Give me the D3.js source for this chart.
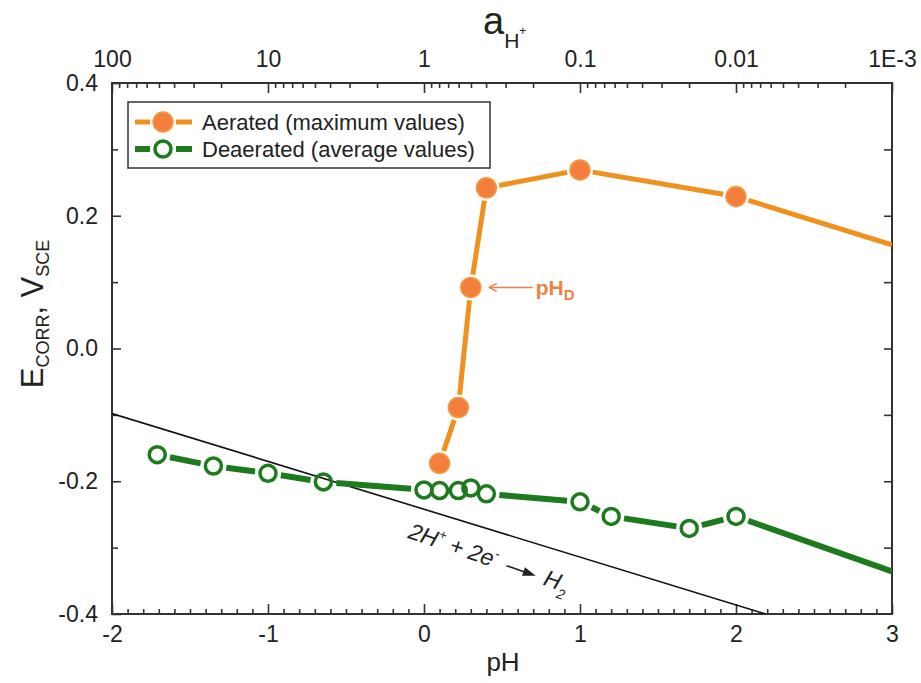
<!DOCTYPE html>
<html>
<head>
<meta charset="utf-8">
<script src="https://cdn.jsdelivr.net/npm/d3@7"></script>
<style>
  html, body { margin: 0; padding: 0; background: #fff; }
  svg { display: block; font-family: "Liberation Sans", Arial, sans-serif; }
</style>
</head>
<body>
<svg id="chart" width="921" height="683"></svg>
<script>
// Corrosion potential vs pH, aerated and deaerated solutions
const aeratedPH = [0.1, 0.22, 0.3, 0.4, 1.0, 2.0, 3.0];
const aeratedE  = [-0.173, -0.089, 0.092, 0.242, 0.269, 0.229, 0.156];

const deaeratedPH = [-1.71, -1.35, -1.0, -0.645, 0.0, 0.1, 0.22, 0.3, 0.4, 1.0, 1.2, 1.7, 2.0, 3.0];
const deaeratedE  = [-0.160, -0.177, -0.188, -0.201, -0.213, -0.214, -0.214, -0.210, -0.219, -0.231, -0.253, -0.271, -0.253, -0.336];

// Hydrogen evolution equilibrium line (end points)
const h2PH = [-2, 2.19];
const h2E  = [-0.098, -0.4];

// Tick labels
const pHTicks = [-2, -1, 0, 1, 2, 3];
const eTicks = [0.4, 0.2, 0.0, -0.2, -0.4];
const activityTicks = [100, 10, 1, 0.1, 0.01, 0.001];
const activityLabels = ["100", "10", "1", "0.1", "0.01", "1E-3"];

const seriesNames = ["Aerated (maximum values)", "Deaerated (average values)"];
const pHD = 0.3; // depassivation pH

const svg = d3.select("#chart");
const L = 112, R = 892, T = 83, B = 614;

const x = d3.scaleLinear().domain([-2, 3]).range([L, R]);
const y = d3.scaleLinear().domain([-0.4, 0.4]).range([B, T]);
const xTop = d3.scaleLog().domain([100, 0.001]).range([L, R]);

const ORANGE_LINE = "#f0901e", ORANGE_FILL = "#f47f3c", GREEN = "#1d7a1d";
const AXIS = "#333";
const FONT = "Liberation Sans, Arial, sans-serif";

// clip for data
svg.append("defs").append("clipPath").attr("id", "plotclip")
  .append("rect").attr("x", L).attr("y", T).attr("width", R - L).attr("height", B - T);

// ---- axes ----
function styleAxis(g) {
  g.select(".domain").remove();
  g.selectAll(".tick line").attr("stroke", AXIS).attr("stroke-width", 1.6);
  g.selectAll(".tick text").attr("fill", "#222").attr("font-size", 23).attr("font-family", FONT);
}

// bottom
const minorPH = d3.range(-20, 31).map(d => d / 10).filter(d => Math.abs(d - Math.round(d)) > 1e-6);
svg.append("g").attr("transform", `translate(0,${B})`)
  .call(d3.axisBottom(x).tickValues(minorPH).tickFormat("").tickSize(-5)).call(styleAxis);
svg.append("g").attr("transform", `translate(0,${B})`)
  .call(d3.axisBottom(x).tickValues(pHTicks).tickFormat(d => String(d)).tickSize(-10).tickPadding(12))
  .call(styleAxis);

// left
const minorE = [0.3, 0.1, -0.1, -0.3];
svg.append("g").attr("transform", `translate(${L},0)`)
  .call(d3.axisLeft(y).tickValues(minorE).tickFormat("").tickSize(-6)).call(styleAxis);
svg.append("g").attr("transform", `translate(${L},0)`)
  .call(d3.axisLeft(y).tickValues(eTicks).tickFormat(d => d.toFixed(1)).tickSize(-9).tickPadding(14))
  .call(styleAxis);

// right
svg.append("g").attr("transform", `translate(${R},0)`)
  .call(d3.axisRight(y).tickValues([0.3, 0.2, 0.1, 0.0, -0.1, -0.2, -0.3]).tickFormat("").tickSize(-8))
  .call(styleAxis);

// top (activity of H+)
const minorA = [];
[100, 10, 1, 0.1, 0.01].forEach(dec => { for (let k = 2; k <= 9; k++) minorA.push(dec / 10 * k); });
svg.append("g").attr("transform", `translate(0,${T})`)
  .call(d3.axisTop(xTop).tickValues(minorA).tickFormat("").tickSize(-5)).call(styleAxis);
svg.append("g").attr("transform", `translate(0,${T})`)
  .call(d3.axisTop(xTop).tickValues(activityTicks)
    .tickFormat((d, i) => activityLabels[i]).tickSize(-10).tickPadding(16))
  .call(styleAxis);

// frame
svg.append("rect").attr("x", L).attr("y", T).attr("width", R - L).attr("height", B - T)
  .attr("fill", "none").attr("stroke", AXIS).attr("stroke-width", 2);

// axis titles
svg.append("text").attr("x", 503).attr("y", 671).attr("text-anchor", "middle")
  .attr("font-size", 26).attr("fill", "#222").text("pH");

const yt = svg.append("text").attr("transform", "translate(43,314) rotate(-90)")
  .attr("text-anchor", "middle").attr("fill", "#222").attr("font-size", 31);
yt.append("tspan").text("E");
yt.append("tspan").attr("font-size", 18).attr("dy", 6).text("CORR");
yt.append("tspan").attr("dy", -6).text(", V");
yt.append("tspan").attr("font-size", 18).attr("dy", 6).text("SCE");

const tt = svg.append("text").attr("x", 483).attr("y", 34).attr("fill", "#222").attr("font-size", 38);
tt.append("tspan").text("a");
tt.append("tspan").attr("font-size", 21).attr("dy", 14).text("H");
tt.append("tspan").attr("font-size", 12).attr("dy", -13).text("+");

// ---- data ----
const plot = svg.append("g").attr("clip-path", "url(#plotclip)");

// H2 equilibrium line
plot.append("line")
  .attr("x1", x(h2PH[0])).attr("y1", y(h2E[0]))
  .attr("x2", x(h2PH[1])).attr("y2", y(h2E[1]))
  .attr("stroke", "#111").attr("stroke-width", 1.6);

// reaction label along the line
const ang = Math.atan2(y(h2E[1]) - y(h2E[0]), x(h2PH[1]) - x(h2PH[0])) * 180 / Math.PI + 2;
const rx = x(0.0) - 17, ry = y(-0.285);
const eqG = svg.append("g").attr("transform", `translate(${rx},${ry}) rotate(${ang})`);
const eq1 = eqG.append("text").attr("font-size", 23).attr("font-style", "italic").attr("fill", "#222");
eq1.append("tspan").text("2H");
eq1.append("tspan").attr("font-size", 13).attr("dy", -10).text("+");
eq1.append("tspan").attr("dy", 10).text(" + 2e");
eq1.append("tspan").attr("font-size", 13).attr("dy", -10).text("-");
const w1 = eq1.node().getComputedTextLength();
// reaction arrow
const a0 = w1 + 10;
eqG.append("line").attr("x1", a0).attr("y1", -6).attr("x2", a0 + 20).attr("y2", -6)
  .attr("stroke", "#222").attr("stroke-width", 1.6);
eqG.append("path").attr("d", `M${a0 + 31},-6 L${a0 + 18},-10.5 L${a0 + 18},-1.5 Z`).attr("fill", "#222");
const eq2 = eqG.append("text").attr("x", a0 + 40).attr("font-size", 23).attr("font-style", "italic").attr("fill", "#222");
eq2.append("tspan").text("H");
eq2.append("tspan").attr("font-size", 14).attr("dy", 8).text("2");

// segments with small gaps around markers
function drawSeries(pts, color, width, r, gap) {
  const seg = [];
  for (let i = 0; i < pts.length - 1; i++) {
    const x1 = x(pts[i][0]), y1 = y(pts[i][1]), x2 = x(pts[i + 1][0]), y2 = y(pts[i + 1][1]);
    const len = Math.hypot(x2 - x1, y2 - y1);
    const s = (r + gap) / len;
    const e = (pts[i + 1][0] >= 3 ? 0 : (r + gap)) / len;
    if (s + e < 1) seg.push([x1 + (x2 - x1) * s, y1 + (y2 - y1) * s, x2 - (x2 - x1) * e, y2 - (y2 - y1) * e]);
  }
  plot.append("g").selectAll("line").data(seg).join("line")
    .attr("x1", d => d[0]).attr("y1", d => d[1]).attr("x2", d => d[2]).attr("y2", d => d[3])
    .attr("stroke", color).attr("stroke-width", width).attr("stroke-linecap", "butt");
}

const aer = aeratedPH.map((p, i) => [p, aeratedE[i]]);
const dea = deaeratedPH.map((p, i) => [p, deaeratedE[i]]);

drawSeries(aer, ORANGE_LINE, 5, 10, 3);
drawSeries(dea, GREEN, 6, 9.5, 3.5);

plot.append("g").selectAll("circle").data(aer.filter(d => d[0] < 3)).join("circle")
  .attr("cx", d => x(d[0])).attr("cy", d => y(d[1])).attr("r", 10)
  .attr("fill", ORANGE_FILL).attr("stroke", "#f39a40").attr("stroke-width", 1.5);

plot.append("g").selectAll("circle").data(dea.filter(d => d[0] < 3)).join("circle")
  .attr("cx", d => x(d[0])).attr("cy", d => y(d[1])).attr("r", 8)
  .attr("fill", "none").attr("stroke", GREEN).attr("stroke-width", 3.5);

// depassivation pH annotation
const pHDE = aeratedE[aeratedPH.indexOf(pHD)];
const ax = x(pHD), ay = y(pHDE);
const ANN = "#f0804a";
svg.append("line").attr("x1", ax + 19).attr("y1", ay).attr("x2", ax + 62).attr("y2", ay)
  .attr("stroke", ANN).attr("stroke-width", 1.5);
svg.append("path")
  .attr("d", `M${ax + 18},${ay} l8,-4 M${ax + 18},${ay} l8,4`)
  .attr("stroke", ANN).attr("stroke-width", 1.5).attr("fill", "none");
const ann = svg.append("text").attr("x", ax + 65).attr("y", ay + 8)
  .attr("font-size", 21).attr("font-weight", "bold").attr("fill", ANN);
ann.append("tspan").text("pH");
ann.append("tspan").attr("font-size", 15).attr("dy", 5).text("D");

// ---- legend ----
const lg = svg.append("g");
lg.append("rect").attr("x", 128).attr("y", 102).attr("width", 362).attr("height", 66)
  .attr("fill", "#fff").attr("stroke", AXIS).attr("stroke-width", 1.5);
const legendRows = [
  { y: 122, color: ORANGE_LINE, filled: true },
  { y: 149, color: GREEN, filled: false }
];
legendRows.forEach((row, i) => {
  lg.append("line").attr("x1", 135).attr("x2", 150).attr("y1", row.y).attr("y2", row.y)
    .attr("stroke", row.color).attr("stroke-width", row.filled ? 5 : 6);
  lg.append("line").attr("x1", 176).attr("x2", 192).attr("y1", row.y).attr("y2", row.y)
    .attr("stroke", row.color).attr("stroke-width", row.filled ? 5 : 6);
  if (row.filled) {
    lg.append("circle").attr("cx", 163).attr("cy", row.y).attr("r", 10)
      .attr("fill", ORANGE_FILL).attr("stroke", "#f39a40").attr("stroke-width", 1.5);
  } else {
    lg.append("circle").attr("cx", 163).attr("cy", row.y).attr("r", 8)
      .attr("fill", "none").attr("stroke", GREEN).attr("stroke-width", 3.5);
  }
  lg.append("text").attr("x", 202).attr("y", row.y + 8).attr("font-size", 22)
    .attr("fill", "#222").text(seriesNames[i]);
});
</script>
</body>
</html>
